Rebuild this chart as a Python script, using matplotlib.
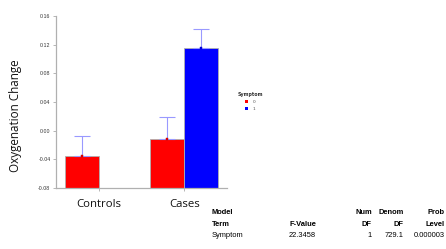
import numpy as np
import matplotlib
matplotlib.use("Agg")
import matplotlib.pyplot as plt

# group means of oxygenation change, split by symptom level
groups = ["Controls", "Cases"]
symptom_levels = ["0", "1"]
mean_sym0 = [-0.0353, -0.0111]
mean_sym1 = [np.nan, 0.1149]
err_sym0 = [0.0284, 0.0302]   # upper error only
err_sym1 = [np.nan, 0.0275]

yticks = [-0.08, -0.04, 0.00, 0.04, 0.08, 0.12, 0.16]
ybase = -0.08   # bars are drawn up from the bottom of the axis

# anova summary under the chart
table_header1 = ["Model", "", "Num", "Denom", "Prob"]
table_header2 = ["Term", "F-Value", "DF", "DF", "Level"]
table_row = ["Symptom", "22.3458", "1", "729.1", "0.000003"]

bar_colors = ["#ff0000", "#0000ff"]
err_color = "#9999ff"

fig = plt.figure(figsize=(4.46, 2.49), dpi=100)
ax = fig.add_axes([0.1256, 0.245, 0.3834, 0.691])

x = np.arange(len(groups))
w = 0.4
for k, (vals, errs) in enumerate([(mean_sym0, err_sym0), (mean_sym1, err_sym1)]):
    pos = x - w / 2 + k * w
    vals = np.array(vals, dtype=float)
    errs = np.array(errs, dtype=float)
    ok = ~np.isnan(vals)
    ax.bar(pos[ok], vals[ok] - ybase, bottom=ybase, width=w, color=bar_colors[k],
           edgecolor="#b0b0b0", linewidth=0.6, label=symptom_levels[k], zorder=2)
    ax.errorbar(pos[ok], vals[ok], yerr=[np.zeros(ok.sum()), errs[ok]], fmt="none",
                ecolor=err_color, elinewidth=0.8, capsize=5.5, capthick=0.8, zorder=3)
    ax.plot(pos[ok], vals[ok], "s", ms=1.8, color=bar_colors[k],
            mec="#a00000" if k == 0 else "#0000a0", mew=0.3, zorder=4)

ax.set_xlim(-0.5, 1.5)
ax.set_ylim(ybase, 0.16)
ax.set_yticks(yticks)
ax.set_yticklabels(["%.2f" % v for v in yticks], fontsize=3.8, family="Liberation Sans", color="#333333")
ax.set_xticks(x)
ax.set_xticklabels([])
ax.tick_params(axis="y", length=2.5, width=0.5, color="#999999", pad=1.5)
ax.tick_params(axis="x", length=2.5, width=0.5, color="#999999")
for s in ["top", "right"]:
    ax.spines[s].set_visible(False)
for s in ["left", "bottom"]:
    ax.spines[s].set_color("#b0b0b0")
    ax.spines[s].set_linewidth(0.9)

# group names and y label sit a bit apart from the axes, like the original
for xi, g in zip(x, groups):
    ax.annotate(g, xy=(xi, 0), xycoords=("data", "figure fraction"), xytext=(0, 45),
                textcoords="offset pixels", ha="center", va="center", fontsize=8.2,
                family="Open Sans", color="#111111")
fig.text(0.034, 0.536, "Oxygenation Change", rotation=90, ha="center", va="center",
         fontsize=8.4, family="Open Sans", color="#111111")

leg = ax.legend(title="Symptom", loc="upper left", bbox_to_anchor=(1.05, 0.57),
                frameon=False, fontsize=3.2, title_fontsize=3.4, handlelength=0.7,
                handleheight=0.7, handletextpad=1.1, labelspacing=0.7, borderaxespad=0)
leg.get_title().set_fontweight("bold")
leg.get_title().set_color("#333333")
for t in leg.get_texts():
    t.set_color("#555555")
for h in leg.legend_handles:
    h.set_edgecolor("none")

# table
col_right = [None, 316, 372, 404, 445]
ys = [212, 224, 235]
for r, row in enumerate([table_header1, table_header2, table_row]):
    for c, txt in enumerate(row):
        if not txt:
            continue
        weight = "bold" if r < 2 else "normal"
        if c == 0:
            fig.text(212 / 446, 1 - ys[r] / 249, txt, ha="left", va="center", fontsize=5.4,
                     family="Liberation Sans", fontweight=weight)
        else:
            fig.text(col_right[c] / 446, 1 - ys[r] / 249, txt, ha="right", va="center",
                     fontsize=5.4, family="Liberation Sans", fontweight=weight)

fig.savefig("out.png", dpi=100)
